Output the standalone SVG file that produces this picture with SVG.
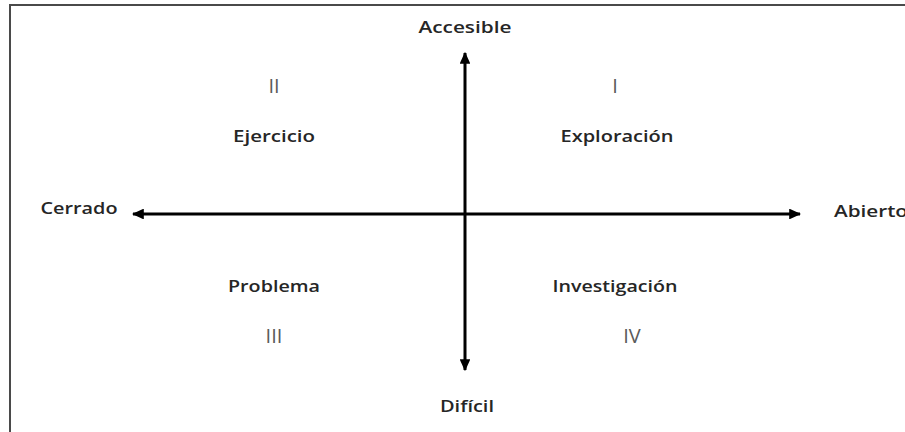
<svg xmlns="http://www.w3.org/2000/svg" width="905" height="432" viewBox="0 0 905 432">
<style>
.lbl{font-family:"Open Sans","Liberation Sans",sans-serif;font-weight:600;font-size:16px;fill:#262626;text-anchor:middle}
.num{font-family:"Open Sans","Liberation Sans",sans-serif;font-weight:400;font-size:20px;fill:#5a5a5a;text-anchor:middle}
.ax{stroke:#000;stroke-width:3;fill:none}
</style>
<defs>
<marker id="ah" viewBox="0 0 10 10" refX="9" refY="5" markerWidth="4" markerHeight="3.6" orient="auto-start-reverse" markerUnits="strokeWidth" preserveAspectRatio="none">
<path d="M0,0 L10,5 L0,10 Z" fill="#000"/>
</marker>
</defs>
<rect width="905" height="432" fill="#fff"/>
<g id="frame">
<path d="M10,432 V5 H905" fill="none" stroke="#4a4a4a" stroke-width="2"/>
</g>
<g id="connectors">
<line class="ax" x1="465" y1="53" x2="465" y2="370" marker-start="url(#ah)" marker-end="url(#ah)"/>
<line class="ax" x1="133" y1="214" x2="800" y2="214" marker-start="url(#ah)" marker-end="url(#ah)"/>
</g>
<g id="accesible"><text class="lbl" x="465" y="33" textLength="93" lengthAdjust="spacingAndGlyphs">Accesible</text></g>
<g id="dificil"><text class="lbl" x="467" y="412" textLength="54" lengthAdjust="spacingAndGlyphs">Difícil</text></g>
<g id="cerrado"><text class="lbl" x="79" y="214" textLength="77" lengthAdjust="spacingAndGlyphs">Cerrado</text></g>
<g id="abierto"><text class="lbl" x="871" y="217" textLength="74" lengthAdjust="spacingAndGlyphs">Abierto</text></g>
<g id="q1"><text class="num" x="615" y="93">I</text><text class="lbl" x="617" y="142" textLength="113" lengthAdjust="spacingAndGlyphs">Exploración</text></g>
<g id="q2"><text class="num" x="274" y="93">II</text><text class="lbl" x="274" y="142" textLength="82" lengthAdjust="spacingAndGlyphs">Ejercicio</text></g>
<g id="q3"><text class="lbl" x="274" y="292" textLength="92" lengthAdjust="spacingAndGlyphs">Problema</text><text class="num" x="274" y="343">III</text></g>
<g id="q4"><text class="lbl" x="615" y="292" textLength="125" lengthAdjust="spacingAndGlyphs">Investigación</text><text class="num" x="632" y="343">IV</text></g>
</svg>
